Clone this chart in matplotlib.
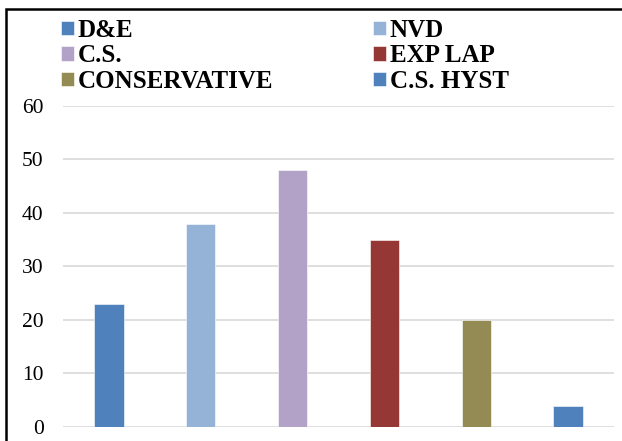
import matplotlib
matplotlib.use("Agg")
import matplotlib.pyplot as plt
from matplotlib.patches import Rectangle

categories = ["D&E", "NVD", "C.S.", "EXP LAP", "CONSERVATIVE", "C.S. HYST"]
values = [23, 38, 48, 35, 20, 4]
colors = ["#4F81BD", "#95B3D7", "#B3A2C7", "#953735", "#948A54", "#4F81BD"]
y_ticks = [0, 10, 20, 30, 40, 50, 60]

plt.rcParams["font.family"] = ["Liberation Serif", "DejaVu Serif"]

W, H = 622, 441
fig = plt.figure(figsize=(W / 100, H / 100), dpi=100)
ax = fig.add_axes([63 / W, 1 - 427 / H, (614 - 63) / W, (427 - 105.7) / H])

x = list(range(len(categories)))
bars = ax.bar(x, values, width=0.32, color=colors, edgecolor="#FFFFFF",
              linewidth=0.4, zorder=3)

ax.set_xlim(-0.5, len(categories) - 0.5)
ax.set_ylim(0, 60)
ax.set_yticks(y_ticks)
ax.set_yticklabels([str(t) for t in y_ticks], fontsize=15.5)
ax.set_xticks([])
ax.tick_params(axis="y", length=0, pad=14)
ax.yaxis.grid(True, color="#D9D9D9", linewidth=1.2, zorder=0)
ax.set_axisbelow(True)
for s in ax.spines.values():
    s.set_visible(False)

# legend filled column by column: reorder so rows read left to right
order = [0, 2, 4, 1, 3, 5]
handles = [bars[i] for i in order]
labels = [categories[i] for i in order]
fig.legend(handles, labels, ncol=2, loc="upper left",
           bbox_to_anchor=(61 / W, 1 - 19 / H),
           frameon=False, prop={"weight": "bold", "size": 18},
           handlelength=0.5, handleheight=0.5, handletextpad=0.16,
           labelspacing=0.09, columnspacing=4.0, borderaxespad=0,
           borderpad=0)

# outer frame (left and top edges)
fig.add_artist(Rectangle((6 / W, -0.2), 1.2, 1.2 - 9 / H,
                         transform=fig.transFigure, fill=False,
                         edgecolor="black", linewidth=1.8))

fig.savefig("out.png", dpi=100)
